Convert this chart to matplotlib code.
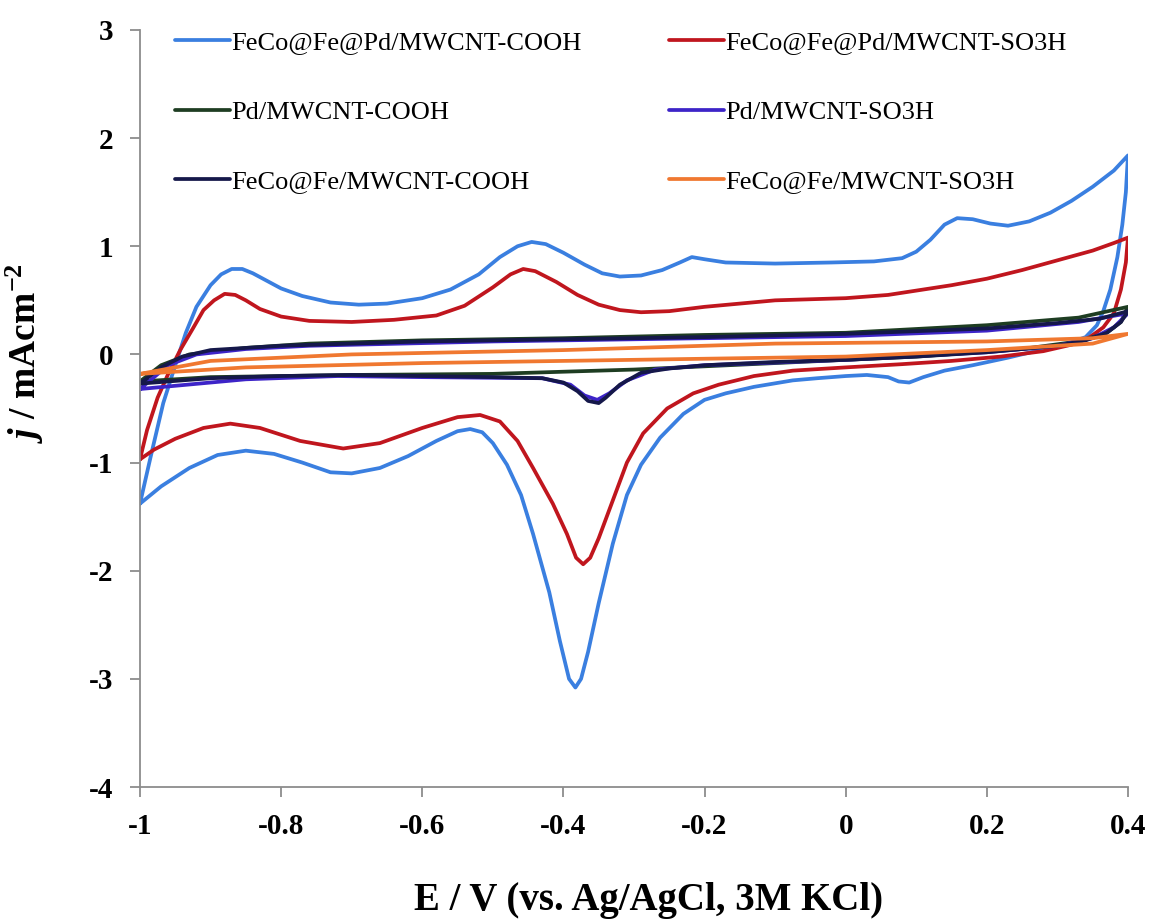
import matplotlib.pyplot as plt

# cyclic voltammograms: forward sweep followed by reverse sweep (E in V, j in mA cm-2)
fecofepd_cooh_E = [-1.0, -0.985, -0.967, -0.95, -0.935, -0.92, -0.9, -0.885, -0.87, -0.855, -0.84, -0.82,
                   -0.8, -0.77, -0.73, -0.69, -0.65, -0.6, -0.56, -0.52, -0.49, -0.465, -0.445, -0.425,
                   -0.4, -0.37, -0.345, -0.32, -0.29, -0.26, -0.235, -0.218, -0.2, -0.17, -0.1, -0.02,
                   0.04, 0.08, 0.1, 0.12, 0.14, 0.158, 0.18, 0.205, 0.23, 0.26, 0.29, 0.32, 0.35, 0.38, 0.4,
                   0.397, 0.392, 0.385, 0.375, 0.365, 0.356, 0.34, 0.31, 0.275, 0.23, 0.18, 0.14, 0.11,
                   0.09, 0.075, 0.06, 0.03, 0.0, -0.04, -0.075, -0.13, -0.17, -0.2, -0.23, -0.263, -0.29,
                   -0.31, -0.33, -0.35, -0.365, -0.375, -0.383, -0.392, -0.405, -0.42, -0.443, -0.46,
                   -0.48, -0.5, -0.515, -0.532, -0.55, -0.58, -0.62, -0.66, -0.7, -0.73, -0.77, -0.81,
                   -0.85, -0.89, -0.93, -0.97, -1.0]
fecofepd_cooh_j = [-1.38, -0.95, -0.45, -0.1, 0.2, 0.44, 0.64, 0.74, 0.79, 0.79, 0.75, 0.68,
                   0.61, 0.54, 0.48, 0.46, 0.47, 0.52, 0.6, 0.74, 0.9, 1.0, 1.04, 1.02,
                   0.94, 0.83, 0.75, 0.72, 0.73, 0.78, 0.85, 0.9, 0.88, 0.85, 0.84, 0.85,
                   0.86, 0.89, 0.95, 1.06, 1.2, 1.26, 1.25, 1.21, 1.19, 1.23, 1.31, 1.42, 1.55, 1.7, 1.84,
                   1.5, 1.2, 0.9, 0.6, 0.4, 0.27, 0.16, 0.09, 0.04, -0.03, -0.1, -0.15, -0.21,
                   -0.26, -0.25, -0.21, -0.19, -0.2, -0.22, -0.24, -0.3, -0.36, -0.42, -0.55, -0.77, -1.02,
                   -1.3, -1.75, -2.3, -2.75, -3.0, -3.08, -3.0, -2.65, -2.2, -1.66, -1.3,
                   -1.02, -0.82, -0.72, -0.69, -0.71, -0.8, -0.94, -1.05, -1.1, -1.09, -1.0, -0.92,
                   -0.89, -0.93, -1.05, -1.22, -1.38]

fecofepd_so3h_E = [-1.0, -0.99, -0.975, -0.96, -0.943, -0.925, -0.91, -0.895, -0.88, -0.865, -0.85, -0.83,
                   -0.8, -0.76, -0.7, -0.64, -0.58, -0.54, -0.5, -0.475, -0.457, -0.44, -0.41, -0.38,
                   -0.35, -0.32, -0.29, -0.25, -0.2, -0.15, -0.1, -0.05, 0.0, 0.06, 0.1, 0.15, 0.2, 0.25,
                   0.3, 0.35, 0.38, 0.4,
                   0.397, 0.39, 0.38, 0.365, 0.346, 0.32, 0.28, 0.22, 0.15, 0.08, 0.0, -0.075, -0.13,
                   -0.18, -0.216, -0.253, -0.287, -0.31, -0.33, -0.35, -0.362, -0.372, -0.382, -0.395,
                   -0.415, -0.443, -0.465, -0.49, -0.518, -0.55, -0.6, -0.66, -0.712, -0.773, -0.83,
                   -0.872, -0.91, -0.95, -0.98, -1.0]
fecofepd_so3h_j = [-0.97, -0.7, -0.4, -0.18, 0.04, 0.24, 0.41, 0.5, 0.56, 0.55, 0.5, 0.42,
                   0.35, 0.31, 0.3, 0.32, 0.36, 0.45, 0.62, 0.74, 0.79, 0.77, 0.67, 0.55,
                   0.46, 0.41, 0.39, 0.4, 0.44, 0.47, 0.5, 0.51, 0.52, 0.55, 0.59, 0.64, 0.7, 0.78,
                   0.87, 0.96, 1.03, 1.08,
                   0.85, 0.6, 0.38, 0.25, 0.16, 0.09, 0.03, -0.02, -0.06, -0.09, -0.12, -0.15, -0.2,
                   -0.28, -0.36, -0.5, -0.73, -1.0, -1.35, -1.7, -1.88, -1.94, -1.88, -1.66,
                   -1.38, -1.05, -0.8, -0.62, -0.56, -0.58, -0.68, -0.82, -0.87, -0.8, -0.68,
                   -0.64, -0.68, -0.78, -0.88, -0.97]

pd_cooh_E = [-1.0, -0.97, -0.93, -0.85, -0.76, -0.6, -0.4, -0.2, 0.0, 0.2, 0.33, 0.4,
             0.39, 0.37, 0.33, 0.25, 0.1, -0.1, -0.3, -0.5, -0.7, -0.9, -1.0]
pd_cooh_j = [-0.25, -0.1, 0.0, 0.06, 0.1, 0.13, 0.15, 0.18, 0.2, 0.27, 0.34, 0.44,
             0.3, 0.2, 0.12, 0.05, -0.02, -0.08, -0.14, -0.18, -0.19, -0.21, -0.25]

pd_so3h_E = [-1.0, -0.96, -0.92, -0.85, -0.76, -0.5, -0.2, 0.0, 0.2, 0.33, 0.4,
             0.38, 0.35, 0.3, 0.2, 0.0, -0.2, -0.27, -0.31, -0.335, -0.352, -0.37, -0.39,
             -0.43, -0.6, -0.72, -0.85, -1.0]
pd_so3h_j = [-0.32, -0.1, 0.0, 0.05, 0.08, 0.12, 0.15, 0.17, 0.22, 0.3, 0.38,
             0.25, 0.15, 0.08, 0.02, -0.05, -0.1, -0.14, -0.24, -0.36, -0.42, -0.38, -0.28,
             -0.22, -0.21, -0.2, -0.23, -0.32]

fecofe_cooh_E = [-1.0, -0.97, -0.94, -0.9, -0.8, -0.6, -0.4, -0.2, 0.0, 0.2, 0.3, 0.36, 0.4,
                 0.39, 0.37, 0.34, 0.3, 0.2, 0.1, 0.0, -0.1, -0.2, -0.25, -0.29, -0.32, -0.34,
                 -0.35, -0.365, -0.38, -0.4, -0.43, -0.5, -0.6, -0.7, -0.8, -0.9, -1.0]
fecofe_cooh_j = [-0.27, -0.12, -0.02, 0.04, 0.08, 0.12, 0.14, 0.16, 0.19, 0.24, 0.29, 0.33, 0.4,
                 0.3, 0.2, 0.13, 0.08, 0.02, -0.02, -0.05, -0.07, -0.1, -0.13, -0.17, -0.28, -0.4,
                 -0.45, -0.43, -0.34, -0.26, -0.22, -0.21, -0.2, -0.19, -0.2, -0.22, -0.27]

fecofe_so3h_E = [-1.0, -0.9, -0.7, -0.4, -0.1, 0.2, 0.35, 0.4,
                 0.35, 0.2, 0.0, -0.3, -0.6, -0.85, -1.0]
fecofe_so3h_j = [-0.18, -0.06, 0.0, 0.04, 0.1, 0.12, 0.15, 0.19,
                 0.1, 0.04, -0.02, -0.05, -0.08, -0.12, -0.18]

samples = [
    ('FeCo@Fe@Pd/MWCNT-COOH', fecofepd_cooh_E, fecofepd_cooh_j, '#3a7fe0'),
    ('Pd/MWCNT-COOH', pd_cooh_E, pd_cooh_j, '#1e3d22'),
    ('FeCo@Fe/MWCNT-COOH', fecofe_cooh_E, fecofe_cooh_j, '#15184a'),
    ('FeCo@Fe@Pd/MWCNT-SO3H', fecofepd_so3h_E, fecofepd_so3h_j, '#c0161e'),
    ('Pd/MWCNT-SO3H', pd_so3h_E, pd_so3h_j, '#3d24c8'),
    ('FeCo@Fe/MWCNT-SO3H', fecofe_so3h_E, fecofe_so3h_j, '#f07830'),
]
draw_order = [0, 3, 1, 4, 2, 5]

plt.rcParams['font.family'] = 'Liberation Serif'
plt.rcParams['mathtext.fontset'] = 'custom'
plt.rcParams['mathtext.rm'] = 'Liberation Serif:bold'
plt.rcParams['mathtext.it'] = 'Liberation Serif:italic:bold'

fig = plt.figure(figsize=(11.53, 9.22), dpi=100)
ax = fig.add_axes([0.1214, 0.1464, 0.8569, 0.8211])

lines = {}
for i in draw_order:
    label, E, j, color = samples[i]
    lines[i], = ax.plot(E, j, color=color, lw=2.7, label=label,
                        solid_joinstyle='round', solid_capstyle='round')

ax.set_xlim(-1, 0.4)
ax.set_ylim(-4, 3)
ax.set_xticks([-1, -0.8, -0.6, -0.4, -0.2, 0, 0.2, 0.4])
ax.set_xticklabels(['-1', '-0.8', '-0.6', '-0.4', '-0.2', '0', '0.2', '0.4'])
ax.set_yticks(range(-4, 4))
ax.set_yticklabels([str(v) for v in range(-4, 4)])

for side in ['top', 'right']:
    ax.spines[side].set_visible(False)
for side in ['left', 'bottom']:
    ax.spines[side].set_color('#8c8c8c')
    ax.spines[side].set_linewidth(1.3)
ax.tick_params(colors='#8c8c8c', length=7, width=1.3, direction='out', labelcolor='black',
               labelsize=21, pad=12)
for t in ax.get_xticklabels() + ax.get_yticklabels():
    t.set_fontweight('bold')

ax.set_xlabel('E / V (vs. Ag/AgCl, 3M KCl)', fontsize=28, fontweight='bold')
ax.xaxis.set_label_coords(0.515, -0.125)
ax.set_ylabel(r'$j$ / mAcm$^{-2}$', fontsize=27, fontweight='bold')
ax.yaxis.set_label_coords(-0.095, 0.573)

handles = [lines[i] for i in range(6)]
ax.legend(handles=handles, labels=[s[0] for s in samples], ncol=2, frameon=False,
          loc='upper left', bbox_to_anchor=(0.035, 0.999), fontsize=19,
          handlelength=2.1, handletextpad=0.05, labelspacing=1.75, columnspacing=3.3,
          borderpad=0, borderaxespad=0)

fig.savefig('out.png', dpi=100)
